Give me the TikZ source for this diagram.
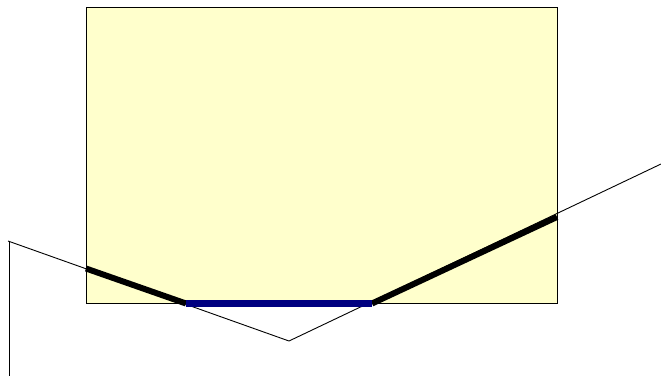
\documentclass[tikz,border=0pt]{standalone}
\definecolor{paleyellow}{HTML}{FFFFCC}
\definecolor{navyblue}{HTML}{000080}
\begin{document}
\begin{tikzpicture}[x=1pt,y=-1pt,
  thinline/.style={draw=black,line width=0.9pt},
  thickseg/.style={draw=black,line width=6pt},
  blueseg/.style={draw=navyblue,line width=7pt}]
\useasboundingbox (0,0) rectangle (661,376);
\filldraw[fill=paleyellow,draw=black,line width=0.9pt] (86,7) rectangle (557,303);
\coordinate (vtop) at (9.5,242);
\coordinate (vbot) at (9.5,376);
\coordinate (ltop) at (8,241);
\coordinate (vtx) at (289,341);
\coordinate (rend) at (661,164);
\coordinate (a) at (86,268.5);
\coordinate (b) at (186,303.5);
\coordinate (c) at (372,303.5);
\coordinate (d) at (557,217);
\draw[thinline] (vtop) -- (vbot);
\draw[thinline] (ltop) -- (vtx) -- (rend);
\draw[thickseg] (a) -- (b);
\draw[thickseg] (c) -- (d);
\draw[blueseg] (b) -- (c);
\end{tikzpicture}
\end{document}
